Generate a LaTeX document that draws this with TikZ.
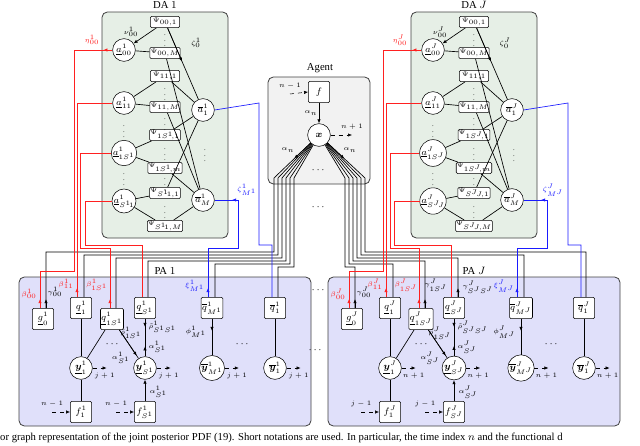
\documentclass[tikz,border=0pt]{standalone}
\usepackage{amsmath,amssymb,bm}
\usepackage{fontspec}
\setmainfont{Liberation Serif}
\usetikzlibrary{arrows.meta,calc}
\definecolor{dafill}{HTML}{E6EFE6}
\definecolor{pafill}{HTML}{E0E0FA}
\definecolor{agfill}{HTML}{F2F2F2}
\definecolor{myred}{HTML}{FF2020}
\definecolor{myblue}{HTML}{1A1AFF}
\tikzset{
 grp/.style={draw=black!75,rounded corners=4pt,line width=0.6pt},
 circ/.style={circle,draw,fill=white,minimum size=17pt,inner sep=0pt,font=\scriptsize},
 phi/.style={draw,rounded corners=1pt,fill=white,minimum width=22pt,minimum height=8.5pt,inner sep=0.5pt,font=\tiny},
 pbox/.style={draw,rounded corners=1pt,fill=white,minimum width=16pt,minimum height=16pt,inner sep=0.5pt,font=\scriptsize},
 lab/.style={font=\tiny,inner sep=1pt},
 arr/.style={-{Latex[length=3pt,width=2.5pt]}},
 dsh/.style={dashed,-{Latex[length=3pt,width=2.5pt]}},
 wire/.style={line width=0.5pt},
}
\newcommand{\mkDA}[3]{%
 \begin{scope}[xshift=#2*0.75pt]
 \draw[grp,fill=dafill] (102,12) rectangle (228,238);
 \node[font=\footnotesize] at (165,5) {DA~$#3$};
 \node[circ] (#1a00) at (124,50) {$\underline{a}^{#3}_{00}$};
 \node[circ] (#1a11) at (124,103) {$\underline{a}^{#3}_{11}$};
 \node[circ] (#1a1S) at (124,153) {$\underline{a}^{#3}_{1S^{#3}}$};
 \node[circ] (#1aS) at (124,201) {$\underline{a}^{#3}_{S^{#3}\!#3}$};
 \node[phi] (#1p1) at (165,22) {$\Psi_{00,1}$};
 \node[phi] (#1p2) at (165,53) {$\Psi_{00,M}$};
 \node[phi] (#1p3) at (165,76) {$\Psi_{11,1}$};
 \node[phi] (#1p4) at (165,107) {$\Psi_{11,M}$};
 \node[phi] (#1p5) at (165,135) {$\Psi_{1S^{#3}\!,1}$};
 \node[phi] (#1p6) at (165,168) {$\Psi_{1S^{#3}\!,m}$};
 \node[phi] (#1p7) at (165,193) {$\Psi_{S^{#3}\!#3,1}$};
 \node[phi] (#1p8) at (165,226) {$\Psi_{S^{#3}\!#3,M}$};
 \node[circ] (#1b1) at (203,110) {$\overline{a}^{#3}_1$};
 \node[circ] (#1bM) at (203,200) {$\overline{a}^{#3}_M$};
 \foreach \y in {37,91,121,151,181,209} \node[font=\tiny,inner sep=0pt] at (165,\y) {$\vdots$};
 \foreach \y in {128,176} \node[font=\tiny,inner sep=0pt] at (124,\y) {$\vdots$};
 \node[font=\tiny,inner sep=0pt] at (205,152) {$\vdots$};
 \draw[wire] (#1a00) -- (#1p2);
 \draw[wire,arr] (#1p1) -- (#1a00);
 \node[lab] at (131,32) {$\nu^{#3}_{00}$};
 \draw[wire] (#1p1) -- (#1b1);
 \draw[wire,arr] (#1p1) -- ($(#1p1)!0.45!(#1b1)$);
 \node[lab] at (196,43) {$\zeta^{#3}_0$};
 \draw[wire] (#1p2) -- (#1bM);
 \draw[wire] (#1a11) -- (#1p3); \draw[wire] (#1a11) -- (#1p4);
 \draw[wire] (#1p3) -- (#1b1); \draw[wire] (#1p4) -- (#1bM);
 \draw[wire] (#1a1S) -- (#1p5); \draw[wire] (#1a1S) -- (#1p6);
 \draw[wire] (#1p5) -- (#1b1); \draw[wire] (#1p6) -- (#1bM);
 \draw[wire] (#1aS) -- (#1p7); \draw[wire] (#1aS) -- (#1p8);
 \draw[wire] (#1p7) -- (#1b1); \draw[wire] (#1p8) -- (#1bM);
 \end{scope}}
\newcommand{\mkPA}[5]{%
 \begin{scope}[xshift=#2*0.75pt]
 \draw[grp,fill=pafill] (19,277) rectangle (311,426);
 \node[font=\footnotesize] at (165,271) {PA~$#3$};
 \node[pbox] (#1g0) at (43,319) {$\underline{g}^{#3}_0$};
 \node[pbox] (#1q1) at (81,308) {$\underline{q}^{#3}_1$};
 \node[pbox] (#1q1S) at (112,319) {$\underline{q}^{#3}_{1S^{#3}}$};
 \node[pbox] (#1qS) at (145,308) {$\underline{q}^{#3}_{S^{#3}}$};
 \node[pbox] (#1qM) at (212,308) {$\overline{q}^{#3}_{M^{#3}}$};
 \node[pbox] (#1qb) at (275,308) {$\overline{q}^{#3}_1$};
 \node[circ] (#1y1) at (81,368) {$\underline{\bm{y}}^{#3}_1$};
 \node[circ] (#1yS) at (145,368) {$\underline{\bm{y}}^{#3}_{S^{#3}}$};
 \node[circ] (#1yM) at (212,368) {$\overline{\bm{y}}^{#3}_{M^{#3}}$};
 \node[circ] (#1yb) at (275,368) {$\overline{\bm{y}}^{#3}_1$};
 \node[pbox] (#1f1) at (81,412) {$f^{#3}_1$};
 \node[pbox] (#1fS) at (145,412) {$f^{#3}_{S^{#3}}$};
 \node[font=\scriptsize] at (113,344) {$\cdots$};
 \node[font=\scriptsize] at (243,344) {$\cdots$};
 \draw[wire] (#1q1) -- (#1y1); \draw[wire] (#1y1) -- (#1q1S); \draw[wire] (#1f1) -- (#1y1);
 \draw[wire] (#1q1S) -- (#1yS);
 \draw[wire,arr] (#1q1S) -- ($(#1q1S)!0.75!(#1yS)$);
 \node[lab] at (131,333) {$\tilde{\rho}^{#3}_{1S^{#3}}$};
 \node[lab] at (121,358) {$\alpha^{#3}_{S^{#3}}$};
 \draw[wire] (#1qS) -- (#1yS);
 \draw[wire,arr] (#1qS.south) -- ++(0,8);
 \draw[wire,arr] (#1yS.north) -- ++(0,-10);
 \node[lab,anchor=west] at (147,327) {$\tilde{\rho}^{#3}_{S^{#3}S^{#3}}$};
 \node[lab,anchor=west] at (147,347) {$\alpha^{#3}_{S^{#3}}$};
 \draw[wire,arr] (#1fS) -- (#1yS);
 \node[lab,anchor=west] at (148,392) {$\alpha^{#3}_{S^{#3}}$};
 \draw[wire] (#1qM) -- (#1yM);
 \draw[wire,arr] (#1qM.south) -- ++(0,12);
 \node[lab,anchor=east] at (208,332) {$\phi^{#3}_{M^{#3}}$};
 \draw[wire] (#1qb) -- (#1yb);
 \foreach \n in {y1,yS,yM,yb} {
  \draw[dsh] (#1\n.east) -- ++(14,0);
  \node[lab] at ($(#1\n.east)+(12,8)$) {$#4$};
 }
 \foreach \n in {f1,fS} {
  \draw[dsh] ($(#1\n.west)+(-18,0)$) -- (#1\n.west);
  \node[lab] at ($(#1\n.west)+(-18,-8)$) {$#5$};
 }
 \end{scope}}
\begin{document}
\begin{tikzpicture}[x=0.75pt,y=-0.75pt]
\useasboundingbox (0,0) rectangle (640,446);
\mkDA{d1}{0}{1}
\mkDA{dJ}{309}{J}
\mkPA{p1}{0}{1}{j+1}{n-1}
\mkPA{pJ}{309}{J}{n+1}{j-1}
% Agent
\draw[grp,fill=agfill] (268,77) rectangle (370,184);
\node[font=\footnotesize] at (320,68) {Agent};
\node[pbox] (af) at (319,92) {$f$};
\node[circ] (ax) at (319,135) {$\bm{x}$};
\draw[wire,arr] (af) -- (ax) node[lab,midway,left] {$\alpha_n$};
\draw[dsh] (290,94) -- (af.west); \node[lab] at (290,86) {$n-1$};
\draw[dsh] (ax.east) -- (352,135); \node[lab] at (352,127) {$n+1$};
\node[font=\scriptsize] at (319,170) {$\cdots$};
\node[font=\scriptsize] at (319,207) {$\cdots$};
\node[font=\scriptsize] at (319,290) {$\cdots$};
\node[font=\scriptsize] at (316,350) {$\cdots$};
% agent to PA1
\foreach \k/\tx/\tn in {0/46/p1g0,1/84/p1q1,2/116/p1q1S,3/148/p1qS,4/215/p1qM,5/278/p1qb} {
 \draw[wire] (ax) -- ({274+4*\k},178) -- ({274+4*\k},{252+3*\k}) -- (\tx,{252+3*\k}) -- (\tx,0 |- \tn.north);
}
\foreach \k/\tx/\tn in {0/586/pJqb,1/524/pJqM,2/458/pJqS,3/425/pJq1S,4/393/pJq1,5/355/pJg0} {
 \draw[wire] (ax) -- ({365-4*\k},178) -- ({365-4*\k},{252+3*\k}) -- (\tx,{252+3*\k}) -- (\tx,0 |- \tn.north);
}
\draw[wire,arr] (ax) -- ($(ax)!0.55!(274,178)$);
\draw[wire,arr] (ax) -- ($(ax)!0.55!(365,178)$);
\node[lab] at (288,150) {$\alpha_n$};
\node[lab] at (350,150) {$\alpha_n$};
\draw[wire,arr] (46,0 |- p1g0.north) -- ++(0,-9);
\node[lab] at (55,292) {$\gamma^1_{00}$};
\draw[wire,arr] (355,0 |- pJg0.north) -- ++(0,-9);
\node[lab] at (364,292) {$\gamma^J_{00}$};
\draw[wire,arr] (425,0 |- pJq1S.north) -- ++(0,-9);
\node[lab] at (436,285) {$\gamma^J_{1S^J}$};
\draw[wire,arr] (458,0 |- pJqS.north) -- ++(0,-9);
\node[lab] at (478,287) {$\gamma^J_{S^JS^J}$};
% red
\begin{scope}[myred,wire]
\draw (d1a00.west) -- (74,50) -- (74,271) -- (40,271) -- (40,0 |- p1g0.north);
\draw (d1a11.west) -- (77,103) -- (77,0 |- p1q1.north);
\draw (d1a1S.west) -- (80,153) -- (80,248) -- (110,248) -- (110,0 |- p1q1S.north);
\draw (d1aS.west) -- (85,201) -- (85,245) -- (142,245) -- (142,0 |- p1qS.north);
\draw[arr] (d1a00.west) -- ++(-9,0);
\node[lab] at (92,40) {$\eta^1_{00}$};
\draw[arr] (40,0 |- p1g0.north) -- ++(0,-9);
\node[lab] at (29,294) {$\beta^1_{00}$};
\draw[arr] (77,0 |- p1q1.north) -- ++(0,-9);
\node[lab] at (66,284) {$\beta^1_{11}$};
\draw[arr] (110,0 |- p1q1S.north) -- ++(0,-9);
\node[lab] at (97,285) {$\beta^1_{1S^1}$};
\draw (dJa00.west) -- (383,50) -- (383,271) -- (349,271) -- (349,0 |- pJg0.north);
\draw (dJa11.west) -- (386,103) -- (386,0 |- pJq1.north);
\draw (dJa1S.west) -- (390,153) -- (390,248) -- (419,248) -- (419,0 |- pJq1S.north);
\draw (dJaS.west) -- (394,201) -- (394,245) -- (451,245) -- (451,0 |- pJqS.north);
\draw[arr] (dJa00.west) -- ++(-9,0);
\node[lab] at (400,40) {$\eta^J_{00}$};
\draw[arr] (349,0 |- pJg0.north) -- ++(0,-9);
\node[lab] at (338,294) {$\beta^J_{00}$};
\draw[arr] (386,0 |- pJq1.north) -- ++(0,-9);
\node[lab] at (375,284) {$\beta^J_{11}$};
\draw[arr] (419,0 |- pJq1S.north) -- ++(0,-9);
\node[lab] at (406,285) {$\beta^J_{1S^J}$};
\end{scope}
% blue
\begin{scope}[myblue,wire]
\draw (d1bM.east) -- (238,200) -- (238,248) -- (208,248) -- (208,0 |- p1qM.north);
\draw (d1b1.east) -- (259,103) -- (259,245) -- (272,245) -- (272,0 |- p1qb.north);
\draw[arr] (238,200) -- ++(-6,0);
\node[lab] at (247,190) {$\zeta^1_{M^1}$};
\draw[arr] (208,0 |- p1qM.north) -- ++(0,-9);
\node[lab] at (195,286) {$\xi^1_{M^1}$};
\draw (dJbM.east) -- (547,200) -- (547,248) -- (517,248) -- (517,0 |- pJqM.north);
\draw (dJb1.east) -- (568,103) -- (568,245) -- (581,245) -- (581,0 |- pJqb.north);
\draw[arr] (547,200) -- ++(-6,0);
\node[lab] at (553,190) {$\zeta^J_{M^J}$};
\draw[arr] (517,0 |- pJqM.north) -- ++(0,-9);
\node[lab] at (504,286) {$\xi^J_{M^J}$};
\end{scope}
\node[anchor=west,font=\footnotesize,inner sep=0pt] at (-3,438) {tor graph representation of the joint posterior PDF (19). Short notations are used. In particular, the time index $n$ and the functional d};
\end{tikzpicture}
\end{document}
